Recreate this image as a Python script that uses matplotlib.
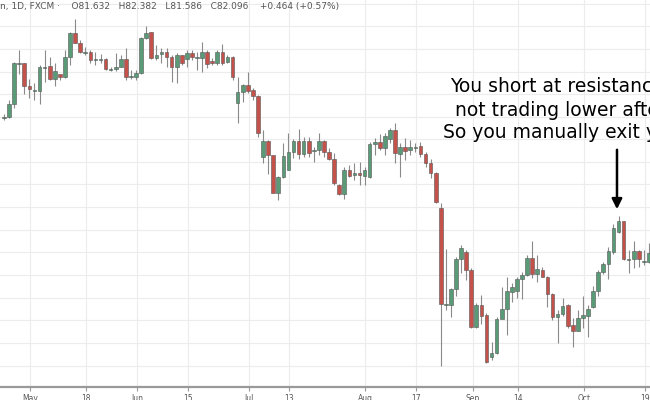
import matplotlib
matplotlib.use("Agg")
import matplotlib.pyplot as plt

# Chart-level values (larger number = lower on the chart; y axis inverted)
opens = [117,117,104,63,63,86,90,91,67,66,
         79,74,77,57,33,43,52,52,59,59,
         59,69,69,67,59,76,77,73,38,32,
         58,54,52,57,67,55,59,53,57,58,
         52,61,63,52,62,57,103,92,85,90,
         96,157,141,155,193,177,170,152,141,154,
         141,150,150,141,152,159,185,194,170,175,
         173,176,177,144,142,148,139,130,154,147,
         150,147,146,154,163,173,208,304,305,289,
         259,252,270,327,305,315,357,353,319,309,
         292,291,279,275,258,274,270,277,294,317,
         314,305,325,331,318,316,307,291,272,264,
         252,232,221,259,259,251,261,262]
closes = [117,104,63,63,86,89,90,67,67,79,
          71,77,57,33,43,52,52,60,59,59,
          69,69,67,59,77,76,73,38,33,58,
          55,52,57,67,55,63,53,57,57,52,
          64,63,52,63,57,77,92,85,91,96,
          133,141,155,193,177,156,152,141,154,141,
          153,150,141,152,159,183,194,170,176,173,
          175,170,144,142,148,136,130,153,147,151,
          147,147,154,163,173,202,304,304,289,259,
          248,270,327,305,316,362,353,319,309,291,
          287,279,275,258,274,269,277,294,317,314,
          306,326,331,318,315,309,291,272,264,251,
          228,221,259,259,251,259,261,253]
highs = [114,100,62,50,63,79,83,65,50,57,
         63,74,50,32,19,40,47,50,52,54,
         58,67,53,55,48,70,70,37,26,32,
         45,48,48,55,53,55,50,50,52,42,
         50,58,50,44,55,56,77,84,72,88,
         95,130,140,155,176,143,133,139,129,137,
         137,147,133,140,148,153,184,167,165,163,
         162,167,142,138,134,133,128,123,143,138,
         140,143,142,152,159,172,203,249,288,257,
         245,250,268,303,295,313,342,317,287,277,
         283,277,272,255,241,255,267,276,293,310,
         298,304,318,310,296,305,286,270,262,247,
         224,216,221,250,241,250,250,243]
lows = [120,118,108,74,94,98,100,104,82,80,
        86,80,78,65,43,53,55,63,65,63,
        70,71,71,67,80,79,80,74,39,59,
        60,63,67,82,83,65,67,60,70,72,
        68,65,65,65,63,80,123,102,93,100,
        137,163,174,193,200,178,170,158,159,157,
        157,162,155,157,160,185,195,199,177,180,
        185,185,178,155,150,155,143,163,177,160,
        155,152,157,167,178,203,366,310,317,296,
        273,280,328,328,324,363,360,354,318,335,
        302,298,299,276,278,282,277,307,320,343,
        316,328,347,331,328,337,308,296,274,279,
        254,233,260,273,268,267,265,263]

tick_pos = [5.1,16.1,26.2,36.2,48.2,56.1,71.1,81.1,92.3,101.2,114.2,126.2]
tick_labels = ["May","18","Jun","15","Jul","13","Aug","17","Sep","14","Oct","19"]
grid_y = [3.5,26,49,72,94,117,139,162,184,207,230,252,275,298,320,343,366]

GREEN = "#5a9b77"
RED = "#c4524a"

fig = plt.figure(figsize=(6.5, 4.0), dpi=100)
ax = fig.add_axes([0, 13/400, 1, 387/400])
ax.set_xlim(-0.79, 127.2)
ax.set_ylim(387, 0)

for y in grid_y:
    ax.axhline(y, color="#ececec", lw=0.8, zorder=0)
for x in tick_pos:
    ax.axvline(x, color="#ececec", lw=0.8, zorder=0)

for i in range(len(opens)):
    o, c, h, l = opens[i], closes[i], highs[i], lows[i]
    col = GREEN if c <= o else RED
    ax.vlines(i, h, l, color="#8a8a8a", lw=0.8, zorder=1)
    top, bot = min(o, c), max(o, c)
    hgt = max(bot - top, 1.0)
    ax.bar(i, hgt, bottom=top, width=0.72, color=col, edgecolor="#555555", linewidth=0.4, zorder=2)

for s in ["top", "right", "left"]:
    ax.spines[s].set_visible(False)
ax.spines["bottom"].set_color("#999999")
ax.spines["bottom"].set_linewidth(1.6)
ax.set_yticks([])
ax.set_xticks(tick_pos)
ax.set_xticklabels(tick_labels, fontsize=5.5, color="#555555")
ax.tick_params(axis="x", length=3, color="#999999", pad=2)

fig.text(0, 1 - 7/400, "n, 1D, FXCM ·    O81.632   H82.382   L81.586   C82.096    +0.464 (+0.57%)",
         fontsize=6.5, color="#555555", va="center", ha="left")

def px(x):
    return x / 650 * 127.99 - 0.79

ax.text(px(450), 87, "You short at resistanc", fontsize=13.5, ha="left", va="center")
ax.text(px(455), 110, "not trading lower afte", fontsize=13.5, ha="left", va="center")
ax.text(px(443), 133, "So you manually exit y", fontsize=13.5, ha="left", va="center")
ax.annotate("", xy=(120.7, 212), xytext=(120.7, 147),
            arrowprops=dict(arrowstyle="-|>,head_width=0.3,head_length=0.6", color="black", lw=1.8))

fig.savefig("out.png", dpi=100)
